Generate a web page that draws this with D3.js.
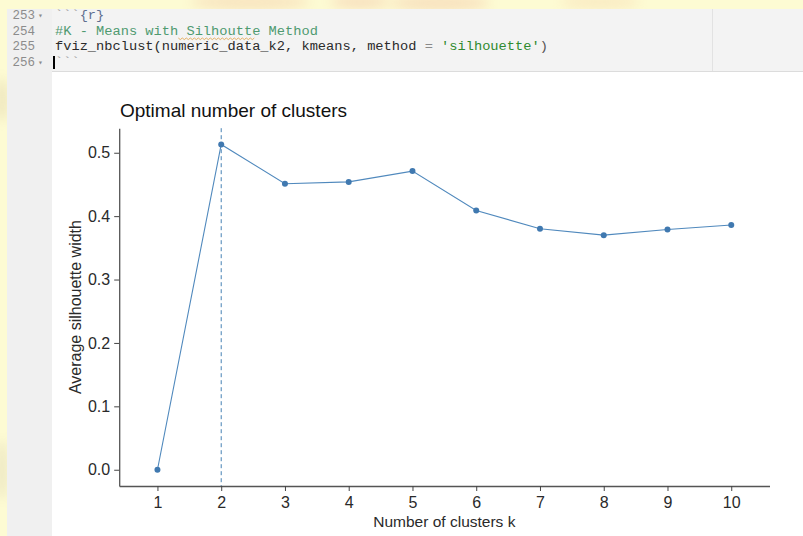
<!DOCTYPE html>
<html>
<head>
<meta charset="utf-8">
<script src="https://cdn.jsdelivr.net/npm/d3@7"></script>
<style>
  html, body { margin: 0; padding: 0; background: #fdfbd3; }
  svg { display: block; }
</style>
</head>
<body>
<svg id="chart" width="803" height="536"></svg>
<script>
// Silhouette scores per number of clusters
const clusterCounts = [1, 2, 3, 4, 5, 6, 7, 8, 9, 10];
const silhouetteWidth = [0.000, 0.513, 0.451, 0.454, 0.471, 0.409, 0.380, 0.370, 0.379, 0.386];
const optimalK = 2;
const yTickValues = [0.0, 0.1, 0.2, 0.3, 0.4, 0.5];
const xTickValues = [1, 2, 3, 4, 5, 6, 7, 8, 9, 10];

const chartTitle = "Optimal number of clusters";
const xTitle = "Number of clusters k";
const yTitle = "Average silhouette width";

// Editor chunk shown above the plot
const lineNumbers = ["253", "254", "255", "256"];
const foldMarks = ["\u25BE", "", "", "\u25BE"];

const svg = d3.select("#chart");
const W = 803, H = 536;

// ---- page backdrop ----
const defs = svg.append("defs");
defs.append("filter").attr("id", "soft").attr("x", "-50%").attr("y", "-50%")
  .attr("width", "200%").attr("height", "200%")
  .append("feGaussianBlur").attr("stdDeviation", 6);

svg.append("rect").attr("width", W).attr("height", H).attr("fill", "#fdfbd3");
const blobs = svg.append("g").attr("filter", "url(#soft)").attr("opacity", 0.45);
[[250, 2, 60, 8, "#f3c9a8"], [440, 3, 50, 8, "#f2c2a6"], [600, 2, 40, 7, "#f6d7ae"],
 [360, 2, 30, 6, "#f0b9a0"], [2, 100, 6, 22, "#d9c9a0"], [2, 470, 6, 30, "#d8cfae"]]
  .forEach(([cx, cy, rx, ry, c]) =>
    blobs.append("ellipse").attr("cx", cx).attr("cy", cy).attr("rx", rx).attr("ry", ry).attr("fill", c));

// editor panes
svg.append("rect").attr("x", 7).attr("y", 9).attr("width", W - 7).attr("height", H - 9).attr("fill", "#ffffff");
svg.append("rect").attr("x", 7).attr("y", 9).attr("width", W - 7).attr("height", 62).attr("fill", "#f3f3f3");
svg.append("rect").attr("x", 7).attr("y", 9).attr("width", 45).attr("height", H - 9).attr("fill", "#f0f0f0");
svg.append("line").attr("x1", 52).attr("x2", W).attr("y1", 71.5).attr("y2", 71.5)
  .attr("stroke", "#dcdcdc").attr("stroke-width", 1);
svg.append("line").attr("x1", 712.5).attr("x2", 712.5).attr("y1", 9).attr("y2", 71)
  .attr("stroke", "#e2e2e2").attr("stroke-width", 1);

const mono = "'Liberation Mono', 'DejaVu Sans Mono', monospace";
const codeY = [19, 34.5, 50, 65.5];
const gut = svg.append("g").attr("font-family", mono).attr("font-size", 12.5).attr("fill", "#8c8c8c");
lineNumbers.forEach((n, i) => {
  gut.append("text").attr("x", 35).attr("y", codeY[i]).attr("text-anchor", "end").text(n);
  if (foldMarks[i]) gut.append("text").attr("x", 38).attr("y", codeY[i] - 1)
    .attr("font-size", 8).text(foldMarks[i]);
});

const code = svg.append("g").attr("font-family", mono).attr("font-size", 13.7);
function codeLine(i, parts) {
  const t = code.append("text").attr("x", 55).attr("y", codeY[i]).attr("xml:space", "preserve");
  parts.forEach(([s, c]) => t.append("tspan").attr("fill", c).text(s));
}
codeLine(0, [["```", "#9a9a9a"], ["{r}", "#5f6f8f"]]);
codeLine(1, [["#K - Means with Silhoutte Method", "#4f9a70"]]);
codeLine(2, [["fviz_nbclust(numeric_data_k2, kmeans, method ", "#2b2b2b"], ["=", "#8a8a8a"],
  [" ", "#2b2b2b"], ["'silhouette'", "#2f8a2f"], [")", "#555"]]);
codeLine(3, [["```", "#9a9a9a"]]);
// spell-check squiggle under "Silhoutte"
const sqX0 = 55 + 15 * 8.22, sqX1 = sqX0 + 9 * 8.22;
let sq = `M${sqX0},38`;
for (let x = sqX0; x < sqX1; x += 4) sq += ` l2,1.6 l2,-1.6`;
svg.append("path").attr("d", sq).attr("fill", "none").attr("stroke", "#e0a040").attr("stroke-width", 0.8);
// cursor
svg.append("rect").attr("x", 53).attr("y", 56).attr("width", 2).attr("height", 13).attr("fill", "#000");

// ---- plot ----
const x = d3.scaleLinear().domain([0.4, 10.6]).range([119.2, 769.5]);
const y = d3.scaleLinear().domain([-0.02565, 0.5387]).range([486, 128.2]);

const sans = "'Liberation Sans', Arial, sans-serif";

svg.append("text").attr("x", 120).attr("y", 116.5)
  .attr("font-family", sans).attr("font-size", 19).attr("fill", "#111").text(chartTitle);

// reference line at the optimal k
svg.append("line")
  .attr("x1", x(optimalK)).attr("x2", x(optimalK))
  .attr("y1", y.range()[1]).attr("y2", y.range()[0])
  .attr("stroke", "#4682b4").attr("stroke-width", 1).attr("stroke-dasharray", "4,3");

const pts = clusterCounts.map((k, i) => ({ k, v: silhouetteWidth[i] }));
svg.append("path").datum(pts)
  .attr("fill", "none").attr("stroke", "#5089bd").attr("stroke-width", 1.1)
  .attr("d", d3.line().x(d => x(d.k)).y(d => y(d.v)));
svg.append("g").selectAll("circle").data(pts).join("circle")
  .attr("cx", d => x(d.k)).attr("cy", d => y(d.v)).attr("r", 3).attr("fill", "#4079b0");

// axes
const yAxis = svg.append("g").attr("transform", "translate(119.2,0)")
  .call(d3.axisLeft(y).tickValues(yTickValues).tickFormat(d3.format(".1f"))
    .tickSize(5).tickSizeOuter(0).tickPadding(4));
const xAxis = svg.append("g").attr("transform", "translate(0,486)")
  .call(d3.axisBottom(x).tickValues(xTickValues).tickFormat(d3.format("d"))
    .tickSize(5).tickSizeOuter(0).tickPadding(6));
[yAxis, xAxis].forEach(g => {
  g.select(".domain").attr("stroke", "#555").attr("stroke-width", 1.3);
  g.selectAll(".tick line").attr("stroke", "#444").attr("stroke-width", 1);
  g.selectAll(".tick text").attr("font-family", sans).attr("font-size", 16).attr("fill", "#2a2a2a");
});

svg.append("text").attr("x", (119.2 + 769.5) / 2).attr("y", 527)
  .attr("text-anchor", "middle").attr("font-family", sans).attr("font-size", 15.5)
  .attr("fill", "#2a2a2a").text(xTitle);
svg.append("text")
  .attr("transform", `translate(81,${(128.2 + 486) / 2}) rotate(-90)`)
  .attr("text-anchor", "middle").attr("font-family", sans).attr("font-size", 16)
  .attr("fill", "#2a2a2a").text(yTitle);
</script>
</body>
</html>
